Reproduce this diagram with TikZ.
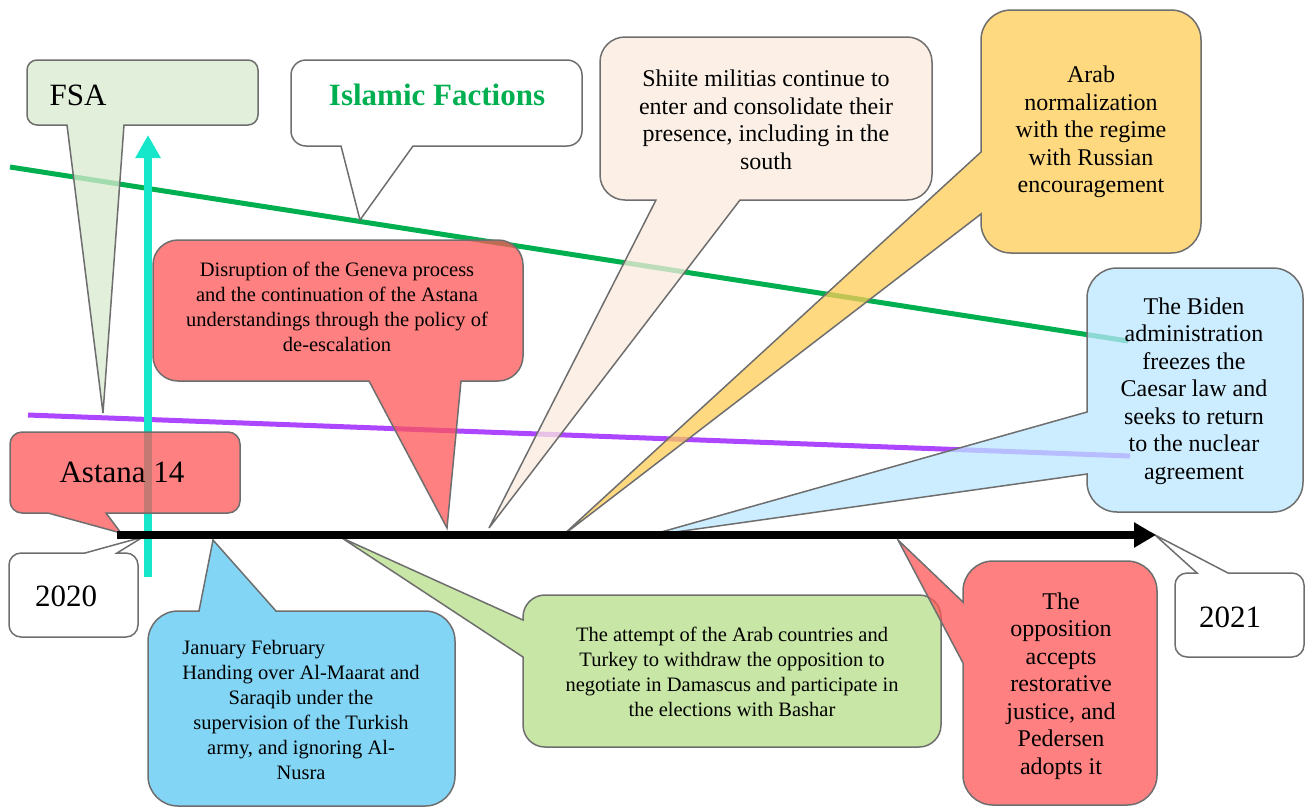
\documentclass[tikz,border=0pt]{standalone}
\usepackage{fontspec}
\usepackage{calc}
\setmainfont{Liberation Serif}
\usetikzlibrary{arrows.meta}

\definecolor{bordergray}{RGB}{110,110,110}
\definecolor{factgreen}{RGB}{0,176,80}
\definecolor{linepurple}{RGB}{172,70,255}
\definecolor{arrowteal}{RGB}{22,230,202}
\definecolor{calred}{RGB}{255,86,86}
\definecolor{fsagreen}{RGB}{216,234,206}
\definecolor{attemptgreen}{RGB}{182,222,135}
\definecolor{janblue}{RGB}{88,199,242}
\definecolor{bidenblue}{RGB}{187,230,255}
\definecolor{shiitebeige}{RGB}{251,235,222}
\definecolor{arabyellow}{RGB}{255,204,86}

\begin{document}
\begin{tikzpicture}[x=1pt, y=-1pt,
    bubble/.style={draw=bordergray, line width=1.5pt, fill opacity=0.75},
    bigtext/.style={font=\fontsize{31}{36}\selectfont},
    smalltext/.style={font=\fontsize{20.5}{25}\selectfont, align=center},
    midtext/.style={font=\fontsize{24}{27.5}\selectfont, align=center}]
    \useasboundingbox (0,0) rectangle (1313,807);

    % Lines
    \draw[line width=5pt, factgreen] (10,167) -- (1128,341);
    \draw[line width=5pt, linepurple] (28,415) -- (1130,456);
    \draw[line width=8pt, arrowteal, -{Triangle[length=23pt,width=24pt]}] (148,577) -- (148,135);

    % Callouts above the timeline
    \draw[bubble, fill=fsagreen] (67,125) -- (103,413) -- (124,125) [rounded corners=10] -- (258,125) -- (258,60) -- (27,60) -- (27,125) [sharp corners] -- cycle;
    \draw[bubble, fill=white] (341,146) -- (360,220) -- (413,146) [rounded corners=15] -- (582,146) -- (582,60) -- (291,60) -- (291,146) [sharp corners] -- cycle;
    \draw[bubble, fill=calred] (369,381) -- (447,528) -- (461,381) [rounded corners=25] -- (523,381) -- (523,240) -- (153,240) -- (153,381) [sharp corners] -- cycle;
    \draw[bubble, fill=shiitebeige] (656,200) -- (489,528) -- (740,200) [rounded corners=25] -- (932,200) -- (932,37) -- (600,37) -- (600,200) [sharp corners] -- cycle;
    \draw[bubble, fill=arabyellow] (981,152) -- (562,536) -- (981,214) [rounded corners=30] -- (981,253) -- (1201,253) -- (1201,10) -- (981,10) [sharp corners] -- cycle;
    \draw[bubble, fill=bidenblue] (1087,412) -- (647,536) -- (1087,474) [rounded corners=30] -- (1087,512) -- (1303,512) -- (1303,268) -- (1087,268) [sharp corners] -- cycle;
    \draw[bubble, fill=calred] (48,513) -- (121,533) -- (106,513) [rounded corners=12] -- (240,513) -- (240,432) -- (10,432) -- (10,513) [sharp corners] -- cycle;

    % Callouts below the timeline
    \draw[bubble, fill=white] (85,553) -- (143,537) -- (117,553) [rounded corners=12] -- (138,553) -- (138,637) -- (9,637) -- (9,553) [sharp corners] -- cycle;
    \draw[bubble, fill=janblue] (199,611) -- (213,540) -- (276,611) [rounded corners=30] -- (455,611) -- (455,806) -- (148,806) -- (148,611) [sharp corners] -- cycle;
    \draw[bubble, fill=attemptgreen] (523,620) -- (342,538) -- (523,657) [rounded corners=22] -- (523,747) -- (941,747) -- (941,595) -- (523,595) [sharp corners] -- cycle;
    \draw[bubble, fill=calred] (963,602) -- (898,540) -- (963,663) [rounded corners=30] -- (963,805) -- (1157,805) -- (1157,561) -- (963,561) [sharp corners] -- cycle;
    \draw[bubble, fill=white] (1228,573) -- (1155,535) -- (1197,573) [rounded corners=12] -- (1175,573) -- (1175,657) -- (1304,657) -- (1304,573) [sharp corners] -- cycle;

    % Timeline
    \draw[line width=8pt, -{Triangle[length=22pt,width=24pt]}] (117,535) -- (1156,535);

    % Texts
    \node[bigtext, anchor=west] (fsa) at (46,95) {FSA};
    \node[bigtext, text=factgreen, font=\fontsize{31}{36}\selectfont\bfseries] (islamic) at (437,95) {Islamic Factions};
    \node[bigtext] (astana) at (122,472) {Astana 14};
    \node[bigtext] (year2020) at (66,596) {2020};
    \node[bigtext] (year2021) at (1230,617) {2021};
    \node[smalltext] (disruption) at (337,307) {Disruption of the Geneva process\\and the continuation of the Astana\\understandings through the policy of\\de-escalation};
    \node[midtext] (shiite) at (766,120) {Shiite militias continue to\\enter and consolidate their\\presence, including in the\\south};
    \node[midtext] (arab) at (1091,132) {Arab\\normalization\\with the regime\\with Russian\\encouragement};
    \node[midtext] (biden) at (1194,391) {The Biden\\administration\\freezes the\\Caesar law and\\seeks to return\\to the nuclear\\agreement};
    \node[smalltext] (january) at (301,710) {\makebox[\widthof{Handing over Al-Maarat and}][l]{January February}\\Handing over Al-Maarat and\\Saraqib under the\\supervision of the Turkish\\army, and ignoring Al-\\Nusra};
    \node[smalltext] (attempt) at (732,672) {The attempt of the Arab countries and\\Turkey to withdraw the opposition to\\negotiate in Damascus and participate in\\the elections with Bashar};
    \node[midtext] (opposition) at (1061,686) {The\\opposition\\accepts\\restorative\\justice, and\\Pedersen\\adopts it};
\end{tikzpicture}
\end{document}
